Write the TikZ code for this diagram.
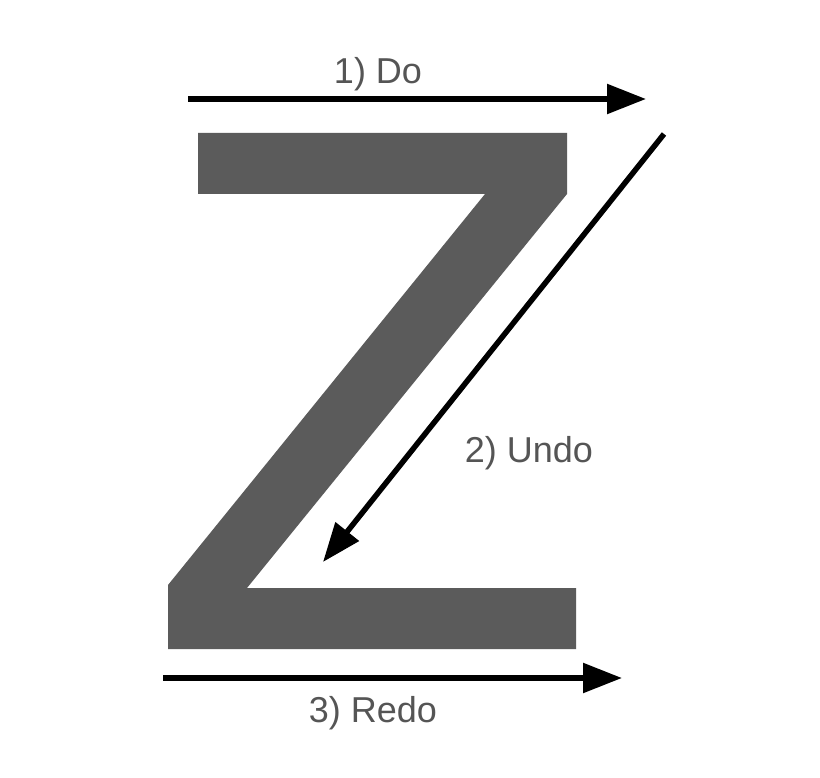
\documentclass[tikz,border=0pt]{standalone}
\usepackage{fontspec}
\setmainfont{Liberation Sans}
\usetikzlibrary{arrows.meta}
\definecolor{zgray}{HTML}{5B5B5B}
\definecolor{tgray}{HTML}{555555}
\tikzset{
  flow/.style={line width=5.5pt, -{Triangle[length=39pt,width=29pt]}, black},
  lbl/.style={text=tgray, font=\fontsize{36}{43}\selectfont, inner sep=0pt}
}
\begin{document}
\begin{tikzpicture}[x=1pt,y=-1pt]
\useasboundingbox (0,0) rectangle (820,778);
\fill[zgray] (198,133) -- (567,133) -- (567,194) -- (247,588) -- (576,588) -- (576,649) -- (168,649) -- (168,585) -- (485,194) -- (198,194) -- cycle;
\coordinate (d1) at (188,99);
\coordinate (d2) at (646,99);
\coordinate (u1) at (664,134);
\coordinate (u2) at (323,562);
\coordinate (r1) at (163,678);
\coordinate (r2) at (622,678);
\draw[flow] (d1) -- (d2);
\draw[flow] (u1) -- (u2);
\draw[flow] (r1) -- (r2);
\node[lbl] (ldo) at (378,74) {1) Do};
\node[lbl] (lundo) at (529,453) {2) Undo};
\node[lbl] (lredo) at (373,713) {3) Redo};
\end{tikzpicture}
\end{document}
